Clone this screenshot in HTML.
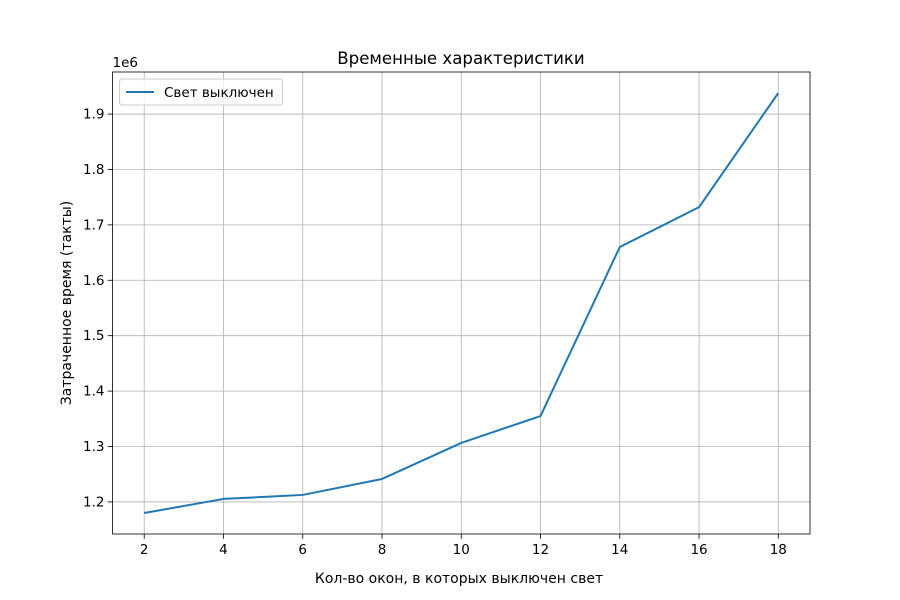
<!DOCTYPE html>
<html><head><meta charset="utf-8"><style>
body{margin:0;background:#fff}
svg{display:block;font-family:"DejaVu Sans","Liberation Sans",sans-serif}
</style></head><body>
<svg id="chart" width="900" height="600">
<rect width="900" height="600" fill="#fff"/>
<g id="grid"></g>
<g id="ticks"></g>
<g id="plot"></g>
<rect x="112.5" y="72" width="697.5" height="462" fill="none" stroke="#000" stroke-width="0.8"/>
<text x="461" y="64" font-size="16.6" text-anchor="middle">Временные характеристики</text>
<text x="459" y="583" font-size="14" text-anchor="middle">Кол-во окон, в которых выключен свет</text>
<text transform="translate(71,303) rotate(-90)" font-size="14" text-anchor="middle">Затраченное время (такты)</text>
<text x="112.5" y="67" font-size="13.5">1e6</text>
<g>
<rect x="119.5" y="79" width="163" height="26" rx="3" fill="#fff" fill-opacity="0.8" stroke="#ccc"/>
<line x1="126" y1="92" x2="154" y2="92" stroke="#1f77b4" stroke-width="2"/>
<text x="164" y="97" font-size="13.5">Свет выключен</text>
</g>
</svg>
<script>
const xs=[2,4,6,8,10,12,14,16,18];
const ys=[1.180,1.2054,1.2126,1.2415,1.3064,1.355,1.660,1.732,1.938];
const xTicks=[2,4,6,8,10,12,14,16,18];
const yTicks=[1.2,1.3,1.4,1.5,1.6,1.7,1.8,1.9];
const L=112.5,R=810,T=72,B=534;
const xmin=1.2,xmax=18.8;
const ymn=Math.min(...ys),ymx=Math.max(...ys),pad=(ymx-ymn)*0.05;
const ymin=ymn-pad,ymax=ymx+pad;
const sx=v=>L+(v-xmin)/(xmax-xmin)*(R-L);
const sy=v=>B-(v-ymin)/(ymax-ymin)*(B-T);
const NS='http://www.w3.org/2000/svg';
const g=document.getElementById('grid'),tk=document.getElementById('ticks'),p=document.getElementById('plot');
function mk(tag,at,par){const e=document.createElementNS(NS,tag);for(const k in at)e.setAttribute(k,at[k]);par.appendChild(e);return e;}
xTicks.forEach(v=>{const x=sx(v);
const l=mk('line',{x1:x,x2:x,y1:T,y2:B,stroke:'#b0b0b0','stroke-width':0.8},g);


mk('line',{x1:x,x2:x,y1:B,y2:B+4.9,stroke:'#000','stroke-width':0.8},tk);
const t=mk('text',{x:x,y:B+20,'font-size':13.5,'text-anchor':'middle'},tk);t.textContent=v;

});
yTicks.forEach(v=>{const y=sy(v);
const l=mk('line',{x1:L,x2:R,y1:y,y2:y,stroke:'#b0b0b0','stroke-width':0.8},g);


mk('line',{x1:L-4.9,x2:L,y1:y,y2:y,stroke:'#000','stroke-width':0.8},tk);
const t=mk('text',{x:L-8,y:y+4.5,'font-size':13.5,'text-anchor':'end'},tk);t.textContent=v.toFixed(1);

});
const pl=mk('polyline',{points:xs.map((x,i)=>sx(x)+','+sy(ys[i])).join(' '),fill:'none',stroke:'#1f77b4','stroke-width':2,'stroke-linejoin':'round'},p);


</script>
</body></html>
